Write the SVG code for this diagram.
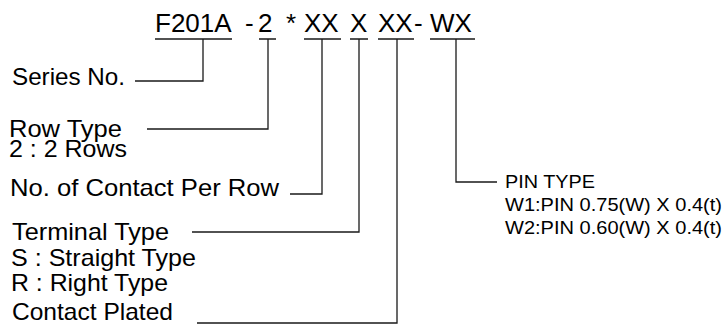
<svg xmlns="http://www.w3.org/2000/svg" width="725" height="329" viewBox="0 0 725 329">
<style>
text{font-family:"Liberation Sans",Arial,sans-serif;fill:#000}
.code{font-size:26px}
.lbl{font-size:24px}
.sm{font-size:23px}
.pin{font-size:18px}
.ln{fill:none;stroke:#1a1a1a;stroke-width:1.3}
</style>
<rect width="725" height="329" fill="#fff"/>
<g id="code">
<text class="code" x="155" y="32">F201A</text>
<text class="code" x="245" y="32">-</text>
<text class="code" x="258" y="32">2</text>
<text class="code" x="286" y="32">*</text>
<text class="code" x="304" y="32">XX</text>
<text class="code" x="350" y="32">X</text>
<text class="code" x="378" y="32">XX</text>
<text class="code" x="414" y="32">-</text>
<text class="code" x="430" y="32">WX</text>
</g>
<g id="underlines" class="ln">
<path d="M155 39H232M259 39H276M304 39H341M350 39H368M378 39H414M430 39H475"/>
</g>
<g id="series"><text class="lbl" x="12" y="85" textLength="113" lengthAdjust="spacingAndGlyphs">Series No.</text></g>
<g id="row"><text class="sm" x="9" y="137" textLength="113" lengthAdjust="spacingAndGlyphs">Row Type</text><text class="sm" x="9" y="157" textLength="118" lengthAdjust="spacingAndGlyphs">2 : 2 Rows</text></g>
<g id="contact"><text class="lbl" x="10" y="196" textLength="269" lengthAdjust="spacingAndGlyphs">No. of Contact Per Row</text></g>
<g id="terminal"><text class="lbl" x="12" y="240" textLength="157" lengthAdjust="spacingAndGlyphs">Terminal Type</text><text class="lbl" x="11" y="266" textLength="185" lengthAdjust="spacingAndGlyphs">S : Straight Type</text><text class="lbl" x="11" y="291" textLength="157" lengthAdjust="spacingAndGlyphs">R : Right Type</text></g>
<g id="plated"><text class="lbl" x="12" y="320" textLength="161" lengthAdjust="spacingAndGlyphs">Contact Plated</text></g>
<g id="pintype"><text class="pin" x="505" y="188" textLength="90" lengthAdjust="spacingAndGlyphs">PIN TYPE</text><text class="pin" x="505" y="211" textLength="217" lengthAdjust="spacingAndGlyphs">W1:PIN 0.75(W) X 0.4(t)</text><text class="pin" x="505" y="234" textLength="217" lengthAdjust="spacingAndGlyphs">W2:PIN 0.60(W) X 0.4(t)</text></g>
<g id="connectors" class="ln">
<path d="M203 39V81H135"/>
<path d="M268 39V129H147"/>
<path d="M322 39V194H290"/>
<path d="M359 39V232H192"/>
<path d="M397 39V323H197"/>
<path d="M456 39V182H497"/>
</g>
</svg>
